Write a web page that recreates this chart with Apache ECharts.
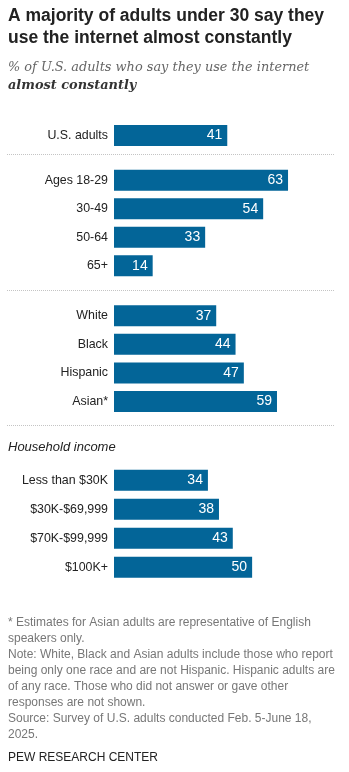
<!DOCTYPE html>
<html>
<head>
<meta charset="utf-8">
<script src="https://cdn.jsdelivr.net/npm/echarts@6/dist/echarts.min.js"></script>
<style>
  html, body { margin: 0; padding: 0; background: #fff; }
  #chart { width: 349px; height: 772px; }
</style>
</head>
<body>
<div id="chart"></div>
<script>
// Share of U.S. adults who say they use the internet almost constantly
const totalCategories = ['U.S. adults'];
const totalValues = [41];

const ageCategories = ['Ages 18-29', '30-49', '50-64', '65+'];
const ageValues = [63, 54, 33, 14];

const raceCategories = ['White', 'Black', 'Hispanic', 'Asian*'];
const raceValues = [37, 44, 47, 59];

const incomeCategories = ['Less than $30K', '$30K-$69,999', '$70K-$99,999', '$100K+'];
const incomeValues = [34, 38, 43, 50];

const footnoteLines = [
  '* Estimates for Asian adults are representative of English',
  'speakers only.',
  'Note: White, Black and Asian adults include those who report',
  'being only one race and are not Hispanic. Hispanic adults are',
  'of any race. Those who did not answer or gave other',
  'responses are not shown.',
  'Source: Survey of U.S. adults conducted Feb. 5-June 18,',
  '2025.'
];

const BAR_COLOR = '#036598';
const SANS = '"Liberation Sans", Arial, sans-serif';
const SERIF = '"DejaVu Serif", Georgia, serif';

// Each group gets its own grid so the gaps between groups can differ
const groups = [
  { cats: totalCategories, vals: totalValues, top: 121.3, height: 28.5 },
  { cats: ageCategories, vals: ageValues, top: 166.1, height: 114 },
  { cats: raceCategories, vals: raceValues, top: 301.5, height: 114.3 },
  { cats: incomeCategories, vals: incomeValues, top: 465.7, height: 116 }
];

const grids = [], xAxes = [], yAxes = [], series = [];
groups.forEach((g, i) => {
  grids.push({ left: 114, width: 221, top: g.top, height: g.height, containLabel: false, outerBoundsMode: 'none' });
  xAxes.push({ type: 'value', gridIndex: i, min: 0, max: 80, show: false });
  yAxes.push({
    type: 'category', gridIndex: i, data: g.cats, inverse: true,
    axisLine: { show: false }, axisTick: { show: false }, splitLine: { show: false },
    axisLabel: { color: '#222', fontSize: 12.4, fontFamily: SANS, margin: 6 }
  });
  series.push({
    type: 'bar', xAxisIndex: i, yAxisIndex: i, data: g.vals, barWidth: 21,
    itemStyle: { color: BAR_COLOR },
    label: { show: true, position: 'insideRight', distance: 5, color: '#fff', fontSize: 14, fontFamily: SANS },
    silent: true, animation: false
  });
});

const graphics = [
  { type: 'text', x: 8, y: 16.4, style: { text: 'A majority of adults under 30 say they', font: 'bold 17.5px ' + SANS, fill: '#222', verticalAlign: 'middle' } },
  { type: 'text', x: 8, y: 38, style: { text: 'use the internet almost constantly', font: 'bold 17.5px ' + SANS, fill: '#222', verticalAlign: 'middle' } },
  { type: 'text', x: 8, y: 68, style: { text: '% of U.S. adults who say they use the internet', font: 'italic 12.9px ' + SERIF, fill: '#666', verticalAlign: 'middle' } },
  { type: 'text', x: 8, y: 86, style: { text: 'almost constantly', font: 'italic bold 12.9px ' + SERIF, fill: '#333', verticalAlign: 'middle' } },
  { type: 'text', x: 8, y: 447, style: { text: 'Household income', font: 'italic 13px ' + SANS, fill: '#222', verticalAlign: 'middle' } },
  { type: 'text', x: 8, y: 758, style: { text: 'PEW RESEARCH CENTER', font: '12px ' + SANS, fill: '#222', verticalAlign: 'middle' } }
];
[154.5, 290.5, 425.5].forEach(y => {
  graphics.push({ type: 'line', shape: { x1: 7, y1: y, x2: 335, y2: y }, style: { stroke: '#c4c4c4', lineWidth: 1, lineDash: [1, 1] } });
});
footnoteLines.forEach((t, k) => {
  graphics.push({ type: 'text', x: 8, y: 623 + k * 16, style: { text: t, font: '12px ' + SANS, fill: '#777', verticalAlign: 'middle' } });
});

const chart = echarts.init(document.getElementById('chart'), null, { renderer: 'canvas' });
chart.setOption({
  backgroundColor: '#fff',
  animation: false,
  grid: grids,
  xAxis: xAxes,
  yAxis: yAxes,
  series: series,
  graphic: graphics
});
</script>
</body>
</html>
